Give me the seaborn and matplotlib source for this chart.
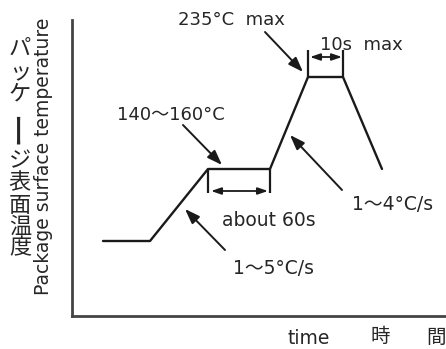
"""Reflow soldering temperature profile (package surface temperature vs time)."""

import matplotlib

matplotlib.use("Agg")
import matplotlib.pyplot as plt  # noqa: E402
import pandas as pd
import seaborn as sns

# Profile corner points (arbitrary units, axis origin at 0,0).
time_pts = [31, 78, 136, 198, 236, 271, 310]
temp_pts = [75, 75, 147, 147, 239, 239, 147]

# Preheat (soak) window and peak window brackets.
soak_start, soak_end, soak_temp, soak_mark = 136, 198, 147, 123
peak_start, peak_end, peak_temp, peak_mark = 236, 271, 239, 266

labels = {
    "peak": "235°C  max",
    "peak_time": "10s  max",
    "soak_temp": "140～160°C",
    "soak_time": "about 60s",
    "ramp_up": "1～5°C/s",
    "ramp_peak": "1～4°C/s",
}
ylabel_en = "Package surface temperature"
ylabel_ja = "パッケージ表面温度"
xlabel_en = "time"
xlabel_ja = ["時", "間"]

INK = "#1a1a1a"

sns.set_theme(style="white")
plt.rcParams["font.family"] = ["DejaVu Sans", "Noto Sans CJK JP"]

fig = plt.figure(figsize=(4.46, 3.49), dpi=100)
ax = fig.add_axes([72 / 446, 33 / 349, 374 / 446, 296 / 349])
ax.set_xlim(0, 374)
ax.set_ylim(0, 296)
ax.set_xticks([])
ax.set_yticks([])
sns.despine(ax=ax)
for side in ("left", "bottom"):
    ax.spines[side].set_color("#444444")
    ax.spines[side].set_linewidth(2.0)

df = pd.DataFrame({"time": time_pts, "temp": temp_pts})
sns.lineplot(data=df, x="time", y="temp", sort=False, color=INK, lw=1.7, ax=ax)
ax.set_xlabel("")
ax.set_ylabel("")

# Brackets marking the soak and peak windows.
ax.vlines([soak_start, soak_end], soak_mark, soak_temp, color=INK, lw=1.6)
ax.vlines([peak_start, peak_end], peak_temp, peak_mark, color=INK, lw=1.6)
dbl = dict(arrowstyle="<|-|>,head_length=0.5,head_width=0.17", color=INK, lw=1.3,
           shrinkA=0, shrinkB=0)
ax.annotate("", xy=(soak_start + 3, soak_mark + 2), xytext=(soak_end - 2, soak_mark + 2),
            arrowprops=dbl)
ax.annotate("", xy=(peak_start + 2, peak_mark - 7), xytext=(peak_end - 1, peak_mark - 7),
            arrowprops=dbl)

one = dict(arrowstyle="-|>,head_length=0.75,head_width=0.27", color=INK, lw=1.4,
           shrinkA=0, shrinkB=0)
fs = 13
ax.annotate("", xy=(231, 244), xytext=(193, 284), arrowprops=one, annotation_clip=False)
ax.annotate("", xy=(150, 151), xytext=(111, 191), arrowprops=one)
ax.annotate("", xy=(113, 107), xytext=(153, 66), arrowprops=one)
ax.annotate("", xy=(218, 181), xytext=(270, 126), arrowprops=one)

ax.text(106, 296, labels["peak"], fontsize=fs, va="center", ha="left", clip_on=False)
ax.text(248, 271, labels["peak_time"], fontsize=fs, va="center", ha="left")
ax.text(45, 201, labels["soak_temp"], fontsize=fs, va="center", ha="left")
ax.text(150, 96, labels["soak_time"], fontsize=13.5, va="center", ha="left")
ax.text(161, 48, labels["ramp_up"], fontsize=13.5, va="center", ha="left")
ax.text(280, 111, labels["ramp_peak"], fontsize=13.5, va="center", ha="left")

# Axis titles drawn as free text, as in the original datasheet figure.
fig.text(287 / 446, 1 - 338 / 349, xlabel_en, fontsize=13.5, va="center", ha="left")
for ch, px in zip(xlabel_ja, [380, 436]):
    fig.text(px / 446, 1 - 337 / 349, ch, fontsize=14, va="center", ha="center",
             family=["Noto Sans CJK JP"])

fig.text(44 / 446, 1 - 156 / 349, ylabel_en, fontsize=13.5, rotation=90,
         va="center", ha="center")
ja_y = [48, 73, 94, 127, 161, 183, 205, 226, 248]
for ch, py in zip(ylabel_ja, ja_y):
    long_bar = ch == "ー"
    fig.text(20 / 446, 1 - py / 349, ch, fontsize=25 if long_bar else 16,
             rotation=90 if long_bar else 0, va="center", ha="center",
             family=["Noto Sans CJK JP"])

fig.savefig("out.png", dpi=100)
